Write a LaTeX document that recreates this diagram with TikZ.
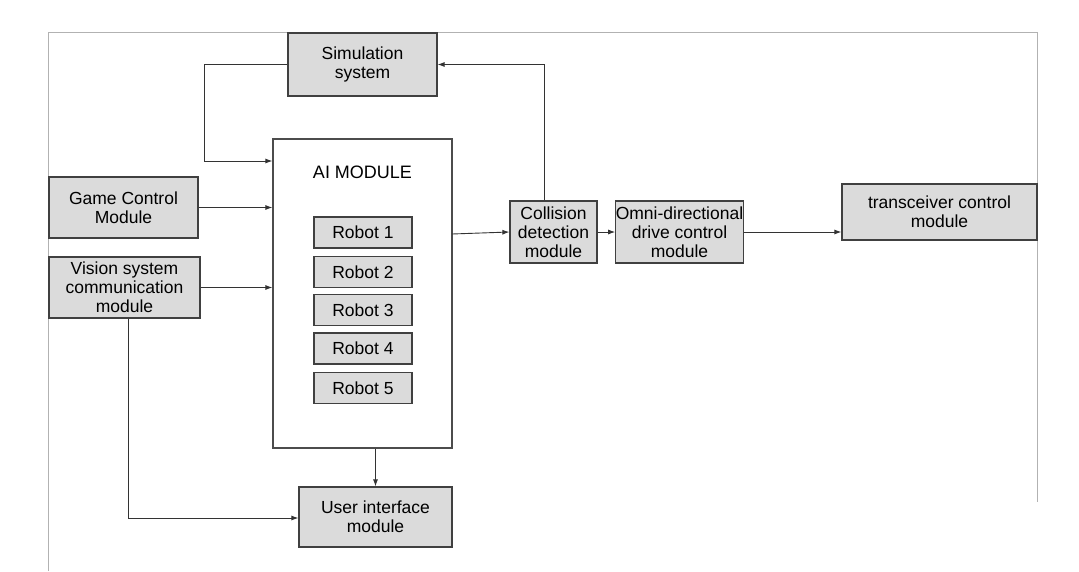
\documentclass[tikz,border=0pt]{standalone}
\usepackage{fontspec}
\setmainfont{Liberation Sans}
\usetikzlibrary{arrows.meta}
\begin{document}
\begin{tikzpicture}[x=1pt,y=-1pt,
  box/.style={draw=black!75,fill=black!14,line width=1.2pt,inner sep=0pt,align=center,font=\fontsize{17.5}{19}\selectfont},
  rob/.style={box,minimum width=98pt,minimum height=31pt},
  arr/.style={draw=black!80,line width=0.9pt,-{Latex[length=7pt,width=5pt]}},
  frame/.style={draw=black!30,line width=1pt}]
\useasboundingbox (0,0) rectangle (1079,571);
\draw[frame] (48,571) -- (48,32) -- (1037,32) -- (1037,502);
\node[box,minimum width=149pt,minimum height=63pt] (sim) at (362.5,64.5) {Simulation\\system};
\node[draw=black!70,line width=1.2pt,fill=white,minimum width=179pt,minimum height=309pt,inner sep=0pt] (ai) at (362.5,293.5) {};
\node[font=\fontsize{18}{20}\selectfont] (ait) at (362.5,172) {AI MODULE};
\node[rob] (r1) at (363,232.5) {Robot 1};
\node[rob] (r2) at (363,272) {Robot 2};
\node[rob] (r3) at (363,310) {Robot 3};
\node[rob] (r4) at (363,348.5) {Robot 4};
\node[rob] (r5) at (363,388) {Robot 5};
\node[box,minimum width=149pt,minimum height=61pt] (gc) at (123.5,207.5) {Game Control\\Module};
\node[box,minimum width=151pt,minimum height=61pt] (vs) at (124.5,287.5) {Vision system\\communication\\module};
\node[box,minimum width=87pt,minimum height=62pt] (col) at (553.5,232) {Collision\\detection\\module};
\node[box,minimum width=117pt,minimum height=62pt] (omni) at (679.5,232) {Omni-directional\\drive control\\module};
\node[box,minimum width=195pt,minimum height=56pt] (tr) at (939.5,212) {transceiver control\\module};
\node[box,minimum width=153pt,minimum height=60pt] (ui) at (375.5,517) {User interface\\module};
\coordinate (c1) at (204,64.5);
\coordinate (c2) at (204,161);
\coordinate (c3) at (544,64.5);
\coordinate (c4) at (128,518);
\draw[arr] (sim.west) -- (c1) -- (c2) -- (c2 -| ai.west);
\draw[arr] (gc.east) -- (gc.east -| ai.west);
\draw[arr] (vs.east) -- (vs.east -| ai.west);
\draw[arr] (vs.south -| c4) -- (c4) -- (c4 -| ui.west);
\draw[arr] (ai.south -| ui.north) -- (ui.north);
\draw[arr] (452,234) -- (col.west);
\draw[arr] (col.north -| c3) -- (c3) -- (sim.east);
\draw[arr] (col.east) -- (omni.west);
\draw[arr] (omni.east) -- (omni.east -| tr.west);
\end{tikzpicture}
\end{document}
